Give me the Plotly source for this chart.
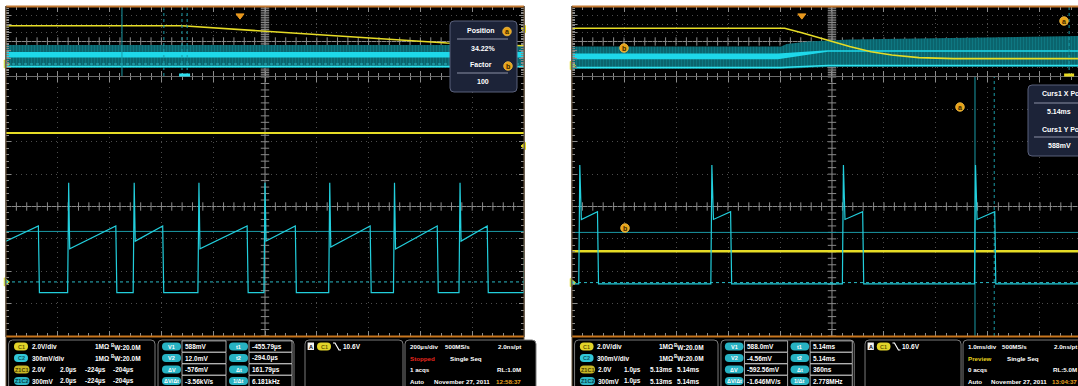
import plotly.graph_objects as go

W, H = 1078, 386

# ---------------- left capture: 200 µs/div record, zoom 2 µs/div ----------------
L_OV_RANGE = [-903.5, 1096.5]            # µs spanned by the overview
L_ZOOM = [-224.0, -204.0]                # µs, zoom window
L_CURSOR_T = [-455.79, -294.0]           # µs, t1 / t2
L_OV_C1_T = [-903.5, -224.0, 799.0, 1096.5]
L_OV_C1_V = [5.82, 5.82, 3.83, 3.50]
L_OV_C2_ENV = [3.59, 0.93]
L_OV_C2_CORE = [2.78, 2.14]
L_OV_C2_BASE = 1.10
L_OV_C2_GND = 1.39
L_OV_C1_MARK = 5.45

L_FALL = [-222.75, -219.76, -217.95, -214.69, -212.83, -209.94, -207.35, -205.42]
L_RISE = [-221.62, -219.09, -216.59, -214.04, -211.54, -209.04, -206.51, -204.0]
L_RAMP_START = [2.93, 2.69, 2.93, 2.69, 2.93, 2.75, 2.69, 2.93]
L_RAMP_END = 3.40
L_LOW = 1.34
L_SPIKE = 4.73
L_C1 = 6.27
L_C2_GND = 1.67
L_VCURSOR = 3.23
L_C1_MARK = 5.87

# ---------------- right capture: 1 ms/div record, zoom 1 µs/div ----------------
R_OV_RANGE = [-4.42, 5.311]              # ms
R_ZOOM = [5130.0, 5139.731]              # µs
R_OV_CURSOR = 5.14                       # ms
R_OV_C1_T = [-4.42, -0.33, 0.0, 0.56, 0.92, 1.33, 1.73, 2.25, 2.92, 5.311]
R_OV_C1_V = [5.53, 5.53, 5.01, 4.01, 3.41, 2.82, 2.43, 2.13, 2.02, 2.02]
R_OV_ENV_TOP_T = [-4.42, -0.40, -0.29, 0.12, 0.92, 2.25, 5.311]
R_OV_ENV_TOP_V = [3.42, 3.42, 3.71, 4.01, 4.22, 4.34, 4.64]
R_OV_ENV_BOT_T = [-4.42, -0.40, 0.50, 5.311]
R_OV_ENV_BOT_V = [0.81, 0.81, 1.04, 1.04]
R_OV_CORE_T = [-4.42, -0.46, 0.50, 5.311]
R_OV_CORE_TOP = [2.62, 2.62, 3.00, 3.00]
R_OV_CORE_BOT = [1.94, 1.94, 2.80, 2.80]
R_OV_BASE_T = [-4.42, -0.40, 0.50, 5.311]
R_OV_BASE_V = [0.99, 0.99, 1.22, 1.22]
R_OV_GND = 1.22

R_RISE = [5130.13, 5132.67, 5135.20, 5137.74]
R_FALL = [5130.49, 5133.05, 5135.59, 5138.13]
R_RAMP = [3.60, 3.84]
R_LOW = 1.61
R_SPIKE = 5.28
R_C1 = 2.62
R_C2_GND = 1.65
R_VCURSOR = 3.20
R_TCURSOR = [5137.75, 5138.12]

# ---------------- read-outs ----------------
LEFT_INFO = dict(
    ch=[("C1", "2.0V/div"), ("C2", "300mV/div")],
    zoom=[("Z1C1", "2.0V", "2.0µs", "-224µs", "-204µs"),
          ("Z1C2", "300mV", "2.0µs", "-224µs", "-204µs")],
    v=[("V1", "588mV"), ("V2", "12.0mV"), ("ΔV", "-576mV"), ("ΔV/Δt", "-3.56kV/s")],
    t=[("t1", "-455.79µs"), ("t2", "-294.0µs"), ("Δt", "161.79µs"), ("1/Δt", "6.181kHz")],
    acq=["200µs/div", "500MS/s", "2.0ns/pt"],
    state=("Stopped", "#e8261e"),
    acqs="1 acqs", rl="RL:1.0M", clock="12:58:37",
)
RIGHT_INFO = dict(
    ch=[("C1", "2.0V/div"), ("C2", "300mV/div")],
    zoom=[("Z1C1", "2.0V", "1.0µs", "5.13ms", "5.14ms"),
          ("Z1C2", "300mV", "1.0µs", "5.13ms", "5.14ms")],
    v=[("V1", "588.0mV"), ("V2", "-4.56mV"), ("ΔV", "-592.56mV"), ("ΔV/Δt", "-1.646MV/s")],
    t=[("t1", "5.14ms"), ("t2", "5.14ms"), ("Δt", "360ns"), ("1/Δt", "2.778MHz")],
    acq=["1.0ms/div", "500MS/s", "2.0ns/pt"],
    state=("Preview", "#e6d21e"),
    acqs="0 acqs", rl="RL:5.0M", clock="13:04:37",
)

YEL = "#e6dc26"
CYN = "#22cedc"
TEAL = "#1a9aa6"
GRAT = "#8a8a8a"
FONT = "Liberation Sans, Arial, sans-serif"

fig = go.Figure()
shapes, annotations = [], []


def X(px):
    return px / W


def Y(py):
    return 1 - py / H


def rrect(x0, y0, x1, y1, r, fill, line, lw=1.0, layer="above"):
    path = (f"M {X(x0 + r)},{Y(y0)} L {X(x1 - r)},{Y(y0)} Q {X(x1)},{Y(y0)} {X(x1)},{Y(y0 + r)} "
            f"L {X(x1)},{Y(y1 - r)} Q {X(x1)},{Y(y1)} {X(x1 - r)},{Y(y1)} L {X(x0 + r)},{Y(y1)} "
            f"Q {X(x0)},{Y(y1)} {X(x0)},{Y(y1 - r)} L {X(x0)},{Y(y0 + r)} Q {X(x0)},{Y(y0)} {X(x0 + r)},{Y(y0)} Z")
    shapes.append(dict(type="path", xref="paper", yref="paper", path=path, fillcolor=fill,
                       line=dict(color=line, width=lw), layer=layer))


def rect(x0, y0, x1, y1, fill, line=None, lw=0, layer="above"):
    shapes.append(dict(type="rect", xref="paper", yref="paper", x0=X(x0), x1=X(x1), y0=Y(y1), y1=Y(y0),
                       fillcolor=fill, line=dict(color=line or fill, width=lw), layer=layer))


def hline(x0, x1, py, color, lw=1, layer="above"):
    shapes.append(dict(type="line", xref="paper", yref="paper", x0=X(x0), x1=X(x1), y0=Y(py), y1=Y(py),
                       line=dict(color=color, width=lw), layer=layer))


def label(px, py, s, color="#ffffff", size=6.5, anchor="left", bold=True):
    annotations.append(dict(x=X(px), y=Y(py), xref="paper", yref="paper",
                            text=f"<b>{s}</b>" if bold else s, showarrow=False,
                            xanchor=anchor, yanchor="middle", borderpad=0,
                            font=dict(family=FONT, size=size, color=color)))


def pill(x0, x1, py, fill, text, tcolor, h=8):
    rrect(x0, py - h / 2, x1, py + h / 2, h / 2, fill, fill, 0)
    label((x0 + x1) / 2, py + 0.3, text, tcolor, 5.5, "center")


def badge(px, py, letter):
    shapes.append(dict(type="circle", xref="paper", yref="paper", x0=X(px - 4.3), x1=X(px + 4.3),
                       y0=Y(py + 4.3), y1=Y(py - 4.3), fillcolor="#e8a317",
                       line=dict(color="#f4c04a", width=0.8), layer="above"))
    label(px, py + 0.3, letter, "#3a2600", 7, "center")


# ---------------- axes ----------------
def scope_axis(domain, rng, dtick, gdash, anchor, mirror=True):
    return dict(domain=domain, range=rng, dtick=dtick, tick0=rng[0], anchor=anchor,
                showgrid=True, gridcolor="#4c4c4c", griddash=gdash, gridwidth=1,
                zeroline=False, showticklabels=False, ticks="inside", ticklen=5,
                tickcolor=GRAT, tickwidth=1, showline=True, linecolor="#6c6c6c", linewidth=1,
                mirror="ticks" if mirror else False,
                minor=dict(ticks="inside", ticklen=3, dtick=dtick / 5, tick0=rng[0],
                           tickcolor=GRAT, showgrid=False),
                fixedrange=True)


OV_DOM = [Y(76), Y(7)]
MAIN_DOM = [Y(336), Y(77)]
L_DOM = [X(6), X(524)]
R_DOM = [X(572), 1.0]

layout_axes = dict(
    xaxis=scope_axis(L_DOM, L_OV_RANGE, 200, "1px,3px", "y"),
    yaxis=scope_axis(OV_DOM, [0, 8], 1, "1px,4px", "x"),
    xaxis2=scope_axis(L_DOM, L_ZOOM, 2, "1px,4px", "y2"),
    yaxis2=scope_axis(MAIN_DOM, [0, 8], 1, "1px,4px", "x2"),
    xaxis3=scope_axis(R_DOM, R_OV_RANGE, 1, "1px,3px", "y3"),
    yaxis3=scope_axis(OV_DOM, [0, 8], 1, "1px,4px", "x3", mirror=False),
    xaxis4=scope_axis(R_DOM, R_ZOOM, 1, "1px,4px", "y4"),
    yaxis4=scope_axis(MAIN_DOM, [0, 8], 1, "1px,4px", "x4", mirror=False),
)


def crosshair(xa, ya, xr, xstep, yc=4.0):
    xc = (xr[0] + xstep * 5)
    shapes.append(dict(type="line", xref=xa, yref=f"{ya} domain", x0=xc, x1=xc, y0=0, y1=1,
                       line=dict(color=GRAT, width=1), layer="below"))
    shapes.append(dict(type="line", xref=f"{xa} domain", yref=ya, x0=0, x1=1, y0=yc, y1=yc,
                       line=dict(color=GRAT, width=1), layer="below"))
    tx = [xr[0] + k * xstep / 5 for k in range(51)]
    ty = [k * 0.2 for k in range(41)]
    fig.add_trace(go.Scatter(x=tx, y=[yc] * len(tx), xaxis=xa, yaxis=ya, mode="markers",
                             marker=dict(symbol="line-ns", size=6, line=dict(color=GRAT, width=1)),
                             hoverinfo="skip", showlegend=False))
    fig.add_trace(go.Scatter(x=[xc] * len(ty), y=ty, xaxis=xa, yaxis=ya, mode="markers",
                             marker=dict(symbol="line-ew", size=6, line=dict(color=GRAT, width=1)),
                             hoverinfo="skip", showlegend=False))


def line_trace(x, y, xa, ya, color, width=1.2, dash="solid", fill=None, fillcolor=None, pattern=None):
    kw = {}
    if pattern:
        kw["fillpattern"] = pattern
    fig.add_trace(go.Scatter(x=x, y=y, xaxis=xa, yaxis=ya, mode="lines",
                             line=dict(color=color, width=width, dash=dash),
                             fill=fill, fillcolor=fillcolor, hoverinfo="skip", showlegend=False, **kw))


def marker(x, y, xa, ya, symbol, color, size=8, edge=None):
    fig.add_trace(go.Scatter(x=[x], y=[y], xaxis=xa, yaxis=ya, mode="markers", cliponaxis=False,
                             marker=dict(symbol=symbol, size=size, color=color,
                                         line=dict(color=edge or color, width=1)),
                             hoverinfo="skip", showlegend=False))


# dense C2 record in the overview: hatched teal band
BAND = dict(shape="|", fgcolor="#12909a", bgcolor="#0a5f68", size=3, solidity=0.45)

# ---------------- screen backgrounds ----------------
for ox, x1 in ((6, 524), (572, 1090)):
    rect(ox, 6, x1, 392, "#000000", layer="below")

# ================= LEFT SCREEN =================
crosshair("x", "y", L_OV_RANGE, 200)
crosshair("x2", "y2", L_ZOOM, 2)

# overview: C2 envelope, bright core and baseline
line_trace([L_OV_RANGE[0], L_OV_RANGE[1], L_OV_RANGE[1], L_OV_RANGE[0], L_OV_RANGE[0]],
           [L_OV_C2_ENV[0], L_OV_C2_ENV[0], L_OV_C2_ENV[1], L_OV_C2_ENV[1], L_OV_C2_ENV[0]],
           "x", "y", "rgba(0,0,0,0)", 0, fill="toself", fillcolor="#0d6f79", pattern=BAND)
line_trace([L_OV_RANGE[0], L_OV_RANGE[1], L_OV_RANGE[1], L_OV_RANGE[0], L_OV_RANGE[0]],
           [L_OV_C2_CORE[0], L_OV_C2_CORE[0], L_OV_C2_CORE[1], L_OV_C2_CORE[1], L_OV_C2_CORE[0]],
           "x", "y", "rgba(0,0,0,0)", 0, fill="toself", fillcolor="#1ed8ea")
line_trace(L_OV_RANGE, [L_OV_C2_BASE] * 2, "x", "y", "#30e4f0", 1.6)
line_trace(L_OV_RANGE, [L_OV_C2_GND] * 2, "x", "y", "#2bb8c4", 1, "dot")
line_trace(L_OV_C1_T, L_OV_C1_V, "x", "y", YEL, 1.6)
# t1 / t2 cursors and zoom window edges
line_trace([L_CURSOR_T[0]] * 2, [0, 8], "x", "y", TEAL, 1)
line_trace([L_CURSOR_T[1]] * 2, [0, 8], "x", "y", TEAL, 1, "dot")
for t in L_ZOOM:
    line_trace([t, t], [0, 8], "x", "y", TEAL, 1, "dot")
shapes.append(dict(type="rect", xref="x", yref="paper", xsizemode="pixel",
                   xanchor=sum(L_ZOOM) / 2, x0=-5.5, x1=5.5, y0=Y(76.5), y1=Y(73.5),
                   fillcolor="#2ee0ee", line=dict(width=0), layer="above"))
marker(0, 7.0, "x", "y", "triangle-down", "#e8981e", 7)
marker(L_OV_RANGE[0], L_OV_C2_GND, "x", "y", "triangle-right", "#3cd8e0", 7, YEL)
marker(L_OV_RANGE[1], L_OV_C1_MARK, "x", "y", "triangle-left", YEL, 6)

# main: C1 and C2
line_trace(L_ZOOM, [L_C1] * 2, "x2", "y2", YEL, 2.2)
line_trace(L_ZOOM, [L_C2_GND] * 2, "x2", "y2", "#2bb8c4", 1, "dot")
line_trace(L_ZOOM, [L_VCURSOR] * 2, "x2", "y2", TEAL, 1)


def left_c2():
    e = 0.04
    xs, ys = [L_ZOOM[0]], [L_RAMP_START[0]]
    for i, tf in enumerate(L_FALL):
        xs += [tf, tf + e]
        ys += [L_RAMP_END, L_LOW]
        tr = L_RISE[i]
        xs += [tr, tr + e]
        ys += [L_LOW, L_SPIKE]
        if i + 1 < len(L_RAMP_START):
            xs.append(tr + 2 * e)
            ys.append(L_RAMP_START[i + 1])
    return xs, ys


lx, ly = left_c2()
line_trace(lx, ly, "x2", "y2", CYN, 1.2)
marker(L_ZOOM[0], L_C2_GND, "x2", "y2", "triangle-right", "#3cd8e0", 7, YEL)
marker(L_ZOOM[1], L_C1_MARK, "x2", "y2", "triangle-left", YEL, 6)

# ================= RIGHT SCREEN =================
crosshair("x3", "y3", R_OV_RANGE, 1)
crosshair("x4", "y4", R_ZOOM, 1)

line_trace(R_OV_ENV_TOP_T + R_OV_ENV_BOT_T[::-1], R_OV_ENV_TOP_V + R_OV_ENV_BOT_V[::-1],
           "x3", "y3", "rgba(0,0,0,0)", 0, fill="toself", fillcolor="#0d6f79", pattern=BAND)
line_trace(R_OV_CORE_T + R_OV_CORE_T[::-1], R_OV_CORE_TOP + R_OV_CORE_BOT[::-1],
           "x3", "y3", "rgba(0,0,0,0)", 0, fill="toself", fillcolor="#1ed8ea")
line_trace(R_OV_BASE_T, R_OV_BASE_V, "x3", "y3", "#30e4f0", 1.6)
line_trace(R_OV_C1_T, R_OV_C1_V, "x3", "y3", YEL, 1.6)
line_trace([R_OV_CURSOR] * 2, [0, 8], "x3", "y3", TEAL, 1, "dot")
shapes.append(dict(type="rect", xref="x3", yref="paper", xsizemode="pixel",
                   xanchor=R_OV_CURSOR, x0=-5, x1=5, y0=Y(76.5), y1=Y(73.5),
                   fillcolor="#e8d820", line=dict(width=0), layer="above"))
marker(0, 7.0, "x3", "y3", "triangle-down", "#e8981e", 7)
marker(R_OV_RANGE[0], R_OV_GND, "x3", "y3", "triangle-right", "#3cd8e0", 7, YEL)

line_trace(R_ZOOM, [R_C1] * 2, "x4", "y4", YEL, 2.6)
line_trace(R_ZOOM, [R_C2_GND] * 2, "x4", "y4", "#2bb8c4", 1, "dot")
line_trace(R_ZOOM, [R_VCURSOR] * 2, "x4", "y4", TEAL, 1)
line_trace([R_TCURSOR[0]] * 2, [0, 8], "x4", "y4", TEAL, 1)
line_trace([R_TCURSOR[1]] * 2, [0, 8], "x4", "y4", TEAL, 1, "dot")


def right_c2():
    e = 0.02
    xs, ys = [R_ZOOM[0]], [R_LOW]
    for tr, tf in zip(R_RISE, R_FALL):
        xs += [tr, tr + e, tr + 2.5 * e, tf, tf + e]
        ys += [R_LOW, R_SPIKE, R_RAMP[0], R_RAMP[1], R_LOW]
    xs.append(R_ZOOM[1])
    ys.append(R_LOW)
    return xs, ys


rx, ry = right_c2()
line_trace(rx, ry, "x4", "y4", CYN, 1.2)
marker(R_ZOOM[0], R_C2_GND, "x4", "y4", "triangle-right", "#3cd8e0", 7, YEL)

# ---------------- frames ----------------
for ox, x1 in ((6, 524), (572, 1090)):
    hline(ox, x1, 6.5, "#c47a32", 2)
    hline(ox, x1, 336.5, "#c8761e", 2)
    shapes.append(dict(type="line", xref="paper", yref="paper", x0=X(ox), x1=X(ox), y0=Y(6), y1=0,
                       line=dict(color="#6a5236", width=1), layer="above"))
    if x1 < W:
        shapes.append(dict(type="line", xref="paper", yref="paper", x0=X(x1), x1=X(x1), y0=Y(6), y1=0,
                           line=dict(color="#6a5236", width=1), layer="above"))

# ---------------- menu boxes ----------------
rrect(450, 21, 517, 92, 4, "#1c2338", "#59607a", 1)
label(481, 30.5, "Position", size=7, anchor="center")
badge(507, 31.5, "a")
hline(457, 508, 39, "#8a90a4", 1)
label(483, 48, "34.22%", size=7, anchor="center")
label(481, 65, "Factor", size=7, anchor="center")
badge(508, 66, "b")
hline(457, 508, 73, "#8a90a4", 1)
label(483, 81.5, "100", size=7, anchor="center")

rrect(1028, 85, 1100, 156, 4, "#1c2338", "#59607a", 1)
label(1041, 94, "Curs1 X Pos", size=7)
hline(1034, 1090, 103, "#8a90a4", 1)
label(1059, 112, "5.14ms", size=7, anchor="center")
label(1041, 129, "Curs1 Y Pos", size=7)
hline(1034, 1090, 137, "#8a90a4", 1)
label(1059, 145, "588mV", size=7, anchor="center")

# cursor letter badges on the right screen
badge(624, 48, "b")
badge(1064, 21, "a")
badge(625, 228, "b")
badge(960, 107, "a")


# ---------------- bottom read-outs ----------------
def edge_icon(px, py):
    path = (f"M {X(px)},{Y(py - 3.5)} L {X(px + 2)},{Y(py - 3.5)} L {X(px + 6)},{Y(py + 3.5)} "
            f"L {X(px + 8)},{Y(py + 3.5)}")
    shapes.append(dict(type="path", xref="paper", yref="paper", path=path,
                       line=dict(color="#ffffff", width=1.2), layer="above"))


def info(ox, d, s=1.0):
    def c(dx):
        return ox + s * dx

    rows = [346.5, 358, 369.5, 381]
    # channel box
    rrect(c(2.6), 340, c(149), 395, 4, "#000000", "#7a7a7a", 1)
    for (tag, vdiv), py, col, tc in zip(d["ch"], rows[:2], ("#e2d42a", "#32c8d8"), ("#6a5c00", "#0b5864")):
        pill(c(8), c(22), py, col, tag, tc)
        label(c(24.5), py, vdiv)
        label(c(87.5), py, "1MΩ")
        label(c(103.5), py, "<sup>B</sup>W:20.0M")
    for row, py, col, tc in zip(d["zoom"], rows[2:], ("#c9b826", "#2cb6c6"), ("#4a4000", "#083c44")):
        pill(c(8), c(23.5), py, col, row[0], tc)
        label(c(25), py, row[1])
        label(c(52.5), py, row[2])
        label(c(78.4), py, row[3])
        label(c(106), py, row[4])
    # cursor read-out box
    rrect(c(152), 340, c(288), 395, 4, "#000000", "#7a7a7a", 1)
    for (tag, val), py in zip(d["v"], rows):
        pill(c(156), c(175), py, "#27b2c2", tag, "#ffffff")
        rect(c(176), py - 5.6, c(220), py + 5.6, "#000000", "#d0d0d0", 0.8)
        label(c(177.5), py, val)
    for (tag, val), py in zip(d["t"], rows):
        pill(c(223), c(242), py, "#27b2c2", tag, "#ffffff")
        rect(c(243), py - 5.6, c(286), py + 5.6, "#000000", "#d0d0d0", 0.8)
        label(c(244.5), py, val)
    # trigger box
    rrect(c(299), 340, c(397), 395, 4, "#000000", "#7a7a7a", 1)
    rect(c(301.6), 342.5, c(308), 350, "#f2f2f2", "#f2f2f2", 0)
    label(c(304.8), 346.5, "A", "#000000", 5.5, "center")
    pill(c(311), c(325), 346.5, "#e2d42a", "C1", "#6a5c00")
    edge_icon(c(327), 346.5)
    label(c(336), 346.5, "10.6V")
    # acquisition box
    rrect(c(399), 340, c(530), 395, 4, "#000000", "#7a7a7a", 1)
    a = d["acq"]
    fs = 6.2
    label(c(403), rows[0], a[0], size=fs)
    label(c(438), rows[0], a[1], size=fs)
    label(c(516), rows[0], a[2], size=fs, anchor="right")
    label(c(403), rows[1], d["state"][0], d["state"][1], size=fs)
    label(c(443), rows[1], "Single Seq", size=fs)
    label(c(403), rows[2], d["acqs"], size=fs)
    label(c(516), rows[2], d["rl"], size=fs, anchor="right")
    label(c(403), rows[3], "Auto", size=fs)
    label(c(427), rows[3], "November 27, 2011", size=fs)
    label(c(516), rows[3], d["clock"], "#eaa020", size=fs, anchor="right")


info(6, LEFT_INFO)
info(572, RIGHT_INFO, 0.98)

fig.update_layout(
    width=W, height=H, margin=dict(l=0, r=0, t=0, b=0),
    paper_bgcolor="#ffffff", plot_bgcolor="#000000",
    showlegend=False, shapes=shapes, annotations=annotations,
    font=dict(family=FONT, color="#ffffff"),
    **layout_axes,
)
fig.write_html("out.html", config={"displayModeBar": False})
